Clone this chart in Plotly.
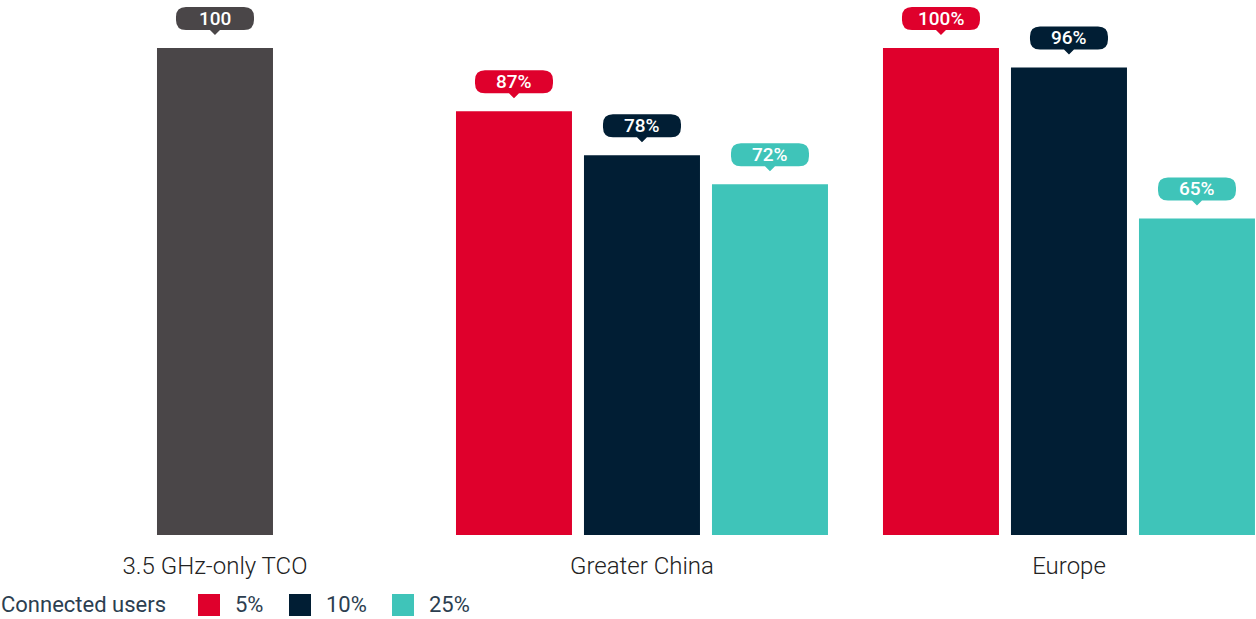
import plotly.graph_objects as go

categorias = ["3.5 GHz-only TCO", "Greater China", "Europe"]
tco_valor = [100]
tco_texto = ["100"]
serie_nombres = ["5%", "10%", "25%"]
serie_valores = [
    [87, 100],
    [78, 96],
    [72, 65],
]
leyenda_titulo = "Connected users"

GRIS = "#4A4648"
ROJO = "#DF002C"
AZUL = "#011E34"
TURQ = "#3FC4B9"
TEXTO = "#222222"
TEXTO_LEY = "#2C3E50"
colores = [ROJO, AZUL, TURQ]
grupos = ["a", "b", "c"]

W, H = 1256, 619
M_B = 84
PLOT_H = H - M_B
BARGAP = 0.1007
FUENTE_PILL = dict(family="Roboto", size=19, color="white", weight=500)
FUENTE_LEY = dict(family="Roboto", size=22, color=TEXTO_LEY)


def py(p):
    """pixel desde arriba -> fracción paper"""
    return (H - p - M_B) / PLOT_H


def px(p):
    return p / W


def pill_path(w=39, r=10, tip=13, base=18, alto=23):
    top = base + alto
    return (
        f"M {-w + r},{base} L -5,{base} L 0,{tip} L 5,{base} L {w - r},{base} "
        f"Q {w},{base} {w},{base + r} L {w},{top - r} Q {w},{top} {w - r},{top} "
        f"L {-w + r},{top} Q {-w},{top} {-w},{top - r} L {-w},{base + r} "
        f"Q {-w},{base} {-w + r},{base} Z"
    )


fig = go.Figure()
for nombre, vals, col, g in zip(serie_nombres, serie_valores, colores, grupos):
    fig.add_trace(go.Bar(
        x=[1, 2], y=vals, marker_color=col, offsetgroup=g,
        name=nombre, showlegend=False,
    ))
fig.add_trace(go.Bar(
    x=[0], y=tco_valor, marker_color=GRIS, offsetgroup="b",
    showlegend=False, name=categorias[0],
))

slot = (1 - BARGAP) / 3
shapes, anots = [], []


def etiqueta(xc, val, texto, col):
    shapes.append(dict(
        type="path", xref="x", yref="y", xsizemode="pixel", ysizemode="pixel",
        xanchor=xc, yanchor=val, path=pill_path(), fillcolor=col,
        line=dict(width=0), layer="above",
    ))
    anots.append(dict(
        x=xc, y=val, xref="x", yref="y", text=texto, showarrow=False,
        yshift=29.5, font=FUENTE_PILL, xanchor="center", yanchor="middle",
    ))


etiqueta(0, tco_valor[0], tco_texto[0], GRIS)
for i, (vals, col) in enumerate(zip(serie_valores, colores)):
    for j, v in enumerate(vals):
        etiqueta(j + 1 + (i - 1) * slot, v, f"{v}%", col)

# leyenda manual
anots.append(dict(
    x=0, y=py(604), xref="paper", yref="paper", text=leyenda_titulo,
    showarrow=False, xanchor="left", yanchor="middle", font=FUENTE_LEY,
    borderpad=0,
))
pos_cuadro = [198, 289, 392]
for nombre, col, x0 in zip(serie_nombres, colores, pos_cuadro):
    shapes.append(dict(
        type="rect", xref="paper", yref="paper",
        x0=px(x0), x1=px(x0 + 22), y0=py(616), y1=py(594),
        fillcolor=col, line=dict(width=0),
    ))
    anots.append(dict(
        x=px(x0 + 36), y=py(604), xref="paper", yref="paper", text=nombre,
        showarrow=False, xanchor="left", yanchor="middle", font=FUENTE_LEY,
        borderpad=0,
    ))

fig.update_layout(
    width=W, height=H,
    barmode="group", bargap=BARGAP, bargroupgap=0.09375,
    plot_bgcolor="white", paper_bgcolor="white",
    margin=dict(l=0, r=0, t=0, b=M_B),
    showlegend=False,
    shapes=shapes, annotations=anots,
    font=dict(family="Roboto", color=TEXTO),
)
fig.update_xaxes(
    range=[-0.5035, 2.438], tickvals=[0, 1, 2], ticktext=categorias,
    showgrid=False, zeroline=False, showline=False,
    ticks="outside", ticklen=9, tickcolor="rgba(0,0,0,0)",
    tickfont=dict(family="Roboto", size=24, color=TEXTO, weight=300),
)
fig.update_yaxes(
    range=[0, PLOT_H / 4.87], visible=False, showgrid=False, zeroline=False,
)
fig.update_traces(marker_line_width=0, hoverinfo="skip")

fig.write_html(
    "out.html",
    config={"displayModeBar": False},
    post_script="document.body.style.margin='0';",
)
